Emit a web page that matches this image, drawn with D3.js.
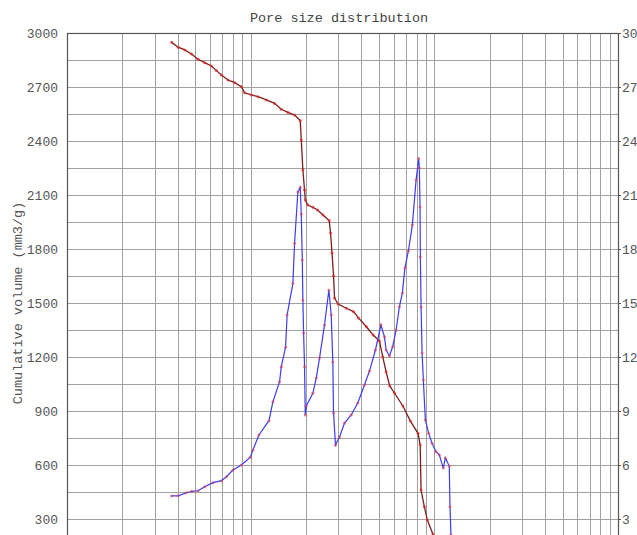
<!DOCTYPE html>
<html lang="en">
  <head>
    <meta charset="UTF-8" />
    <title>Pore size distribution</title>
    <style>
      body {
        margin: 0;
        background: #fff;
        overflow: hidden;
      }
      svg {
        display: block;
      }
      .tick text {
        font-family: "Liberation Mono", "DejaVu Sans Mono", monospace;
        font-size: 13px;
        fill: #555;
      }
      .grid line {
        stroke: #a0a0a0;
        stroke-width: 1px;
      }
    </style>
  </head>
  <body>
    <svg id="chart"></svg>

    <script src="https://d3js.org/d3.v7.min.js"></script>
    <script>
      const width = 637;
      const height = 535;
      const margin = { top: 33, right: 18, bottom: 573, left: 67 };

      // cumulative intrusion curve (left axis, mm3/g)
      const cumSize = [
        3.71, 4.03, 4.38, 4.76, 5.17, 5.62, 6.11, 6.51, 6.93, 7.53, 8.19, 8.9,
        9.28, 10.09, 10.96, 12.17, 13.5, 14.68, 15.95, 17.34, 18.62, 18.86,
        19.24, 19.65, 19.83, 20.48, 21.81, 23.13, 24.77, 26.77, 27.22, 27.73,
        28.26, 28.62, 29.9, 33.24, 36.29, 38.63, 42.68, 46.43, 50.25, 52.36,
        54.64, 57.16, 60.63, 67.42, 74.06, 81.53, 83.73, 84.69, 88.26, 91.61,
        98.15, 103.8,
      ];
      const cumVolume = [
        2948, 2921, 2906, 2883, 2854, 2835, 2817, 2791, 2767, 2739, 2724, 2702,
        2668, 2656, 2646, 2628, 2609, 2576, 2559, 2544, 2513, 2406, 2239, 2128,
        2072, 2044, 2032, 2017, 1989, 1958, 1889, 1778, 1650, 1528, 1494, 1471,
        1452, 1417, 1368, 1322, 1289, 1202, 1117, 1039, 1000, 928, 844, 776,
        711, 461, 368, 294, 217, 156,
      ];

      // differential curve (right axis)
      const diffSize = [
        3.71, 4.03, 4.47, 4.78, 5.17, 5.62, 6.24, 6.93, 7.38, 8.01, 8.9, 9.96,
        10.29, 11.09, 12.58, 13.22, 14.37, 14.68, 15.49, 15.79, 16.98, 17.34,
        18.07, 18.62, 18.86, 19.1, 19.24, 19.42, 19.65, 19.83, 20.08, 21.81,
        22.75, 23.71, 25.24, 26.65, 27.45, 28.01, 28.26, 28.97, 30.46, 32.43,
        35.27, 38.29, 41.65, 44.34, 47.79, 51.2, 53.49, 54.64, 56.94, 59.33,
        61.91, 64.53, 66.99, 69.14, 72.22, 75.92, 79.55, 82.16, 82.88, 83.61,
        83.92, 84.69, 85.75, 87.14, 89.36, 93.13, 97.16, 102.1, 106.4, 111.9,
        114.8, 120.6, 121.7, 123.2, 124.2,
      ];
      const diffVolume = [
        4.28, 4.29, 4.46, 4.54, 4.57, 4.79, 5.02, 5.13, 5.35, 5.72, 6.0, 6.43,
        6.83, 7.67, 8.46, 9.52, 10.63, 11.46, 12.54, 14.33, 16.09, 18.32,
        21.17, 21.42, 19.94, 17.39, 15.17, 13.33, 11.46, 8.78, 9.28, 9.98,
        10.83, 11.94, 13.78, 15.72, 14.33, 11.72, 8.89, 7.11, 7.56, 8.33, 8.78,
        9.44, 10.44, 11.22, 12.39, 13.78, 13.13, 12.39, 12.06, 12.57, 13.5,
        14.79, 15.56, 16.94, 17.89, 19.33, 21.83, 23.03, 22.5, 20.33, 17.56,
        14.78, 12.22, 10.72, 8.5, 7.76, 7.21, 6.74, 6.56, 5.83, 6.39, 5.94,
        3.68, 2.11, 0,
      ];

      const leftTicks = [300, 600, 900, 1200, 1500, 1800, 2100, 2400, 2700, 3000];
      const rightTicks = [3, 6, 9, 12, 15, 18, 21, 24, 27, 30];

      const x0 = margin.left;
      const x1 = width - margin.right - 1;
      const y0 = margin.bottom;
      const y1 = margin.top;

      const svg = d3
        .select("#chart")
        .attr("width", width)
        .attr("height", height)
        .attr("viewBox", `0 0 ${width} ${height}`);

      const x = d3.scaleLog().domain([1, 1000]).range([x0, x1]);
      const yLeft = d3.scaleLinear().domain([0, 3000]).range([y0, y1]);
      const yRight = d3.scaleLinear().domain([0, 30]).range([y0, y1]);

      // grid
      const grid = svg.append("g").attr("class", "grid");
      grid
        .selectAll("line.v")
        .data(x.ticks().filter((d) => d > 1 && d < 1000))
        .join("line")
        .attr("class", "v")
        .attr("x1", (d) => Math.round(x(d)) + 0.5)
        .attr("x2", (d) => Math.round(x(d)) + 0.5)
        .attr("y1", y1)
        .attr("y2", y0);
      grid
        .selectAll("line.h")
        .data(d3.range(150, 3000, 150))
        .join("line")
        .attr("class", "h")
        .attr("x1", x0)
        .attr("x2", x1)
        .attr("y1", (d) => Math.round(yLeft(d)) + 0.5)
        .attr("y2", (d) => Math.round(yLeft(d)) + 0.5);

      // frame
      svg
        .append("rect")
        .attr("x", x0 + 0.5)
        .attr("y", y1 + 0.5)
        .attr("width", x1 - x0)
        .attr("height", y0 - y1)
        .attr("fill", "none")
        .attr("stroke", "#555")
        .attr("stroke-width", 1.2);

      // axes
      const leftAxis = svg
        .append("g")
        .attr("transform", `translate(${x0},0)`)
        .call(
          d3
            .axisLeft(yLeft)
            .tickValues(leftTicks)
            .tickFormat(d3.format("d"))
            .tickSize(0)
            .tickPadding(9)
        );
      leftAxis.select(".domain").remove();

      const rightAxis = svg
        .append("g")
        .attr("transform", `translate(${x1},0)`)
        .call(
          d3
            .axisRight(yRight)
            .tickValues(rightTicks)
            .tickFormat(d3.format("d"))
            .tickSize(3)
            .tickPadding(1)
        );
      rightAxis.select(".domain").remove();
      rightAxis.selectAll(".tick line").attr("stroke", "#555");

      // title
      svg
        .append("text")
        .attr("x", 339)
        .attr("y", 22)
        .attr("text-anchor", "middle")
        .style("font-family", '"Liberation Mono", monospace')
        .style("font-size", "13.5px")
        .style("fill", "#444")
        .text("Pore size distribution");

      svg
        .append("text")
        .attr("transform", `translate(22,${(y0 + y1) / 2}) rotate(-90)`)
        .attr("text-anchor", "middle")
        .style("font-family", '"Liberation Mono", monospace')
        .style("font-size", "13.5px")
        .style("fill", "#555")
        .text("Cumulative volume (mm3/g)");

      const cumData = cumSize.map((s, i) => [s, cumVolume[i]]);
      const diffData = diffSize.map((s, i) => [s, diffVolume[i]]);

      const lineCum = d3
        .line()
        .x((d) => x(d[0]))
        .y((d) => yLeft(d[1]));
      const lineDiff = d3
        .line()
        .x((d) => x(d[0]))
        .y((d) => yRight(d[1]));

      svg
        .append("path")
        .datum(cumData)
        .attr("d", lineCum)
        .attr("fill", "none")
        .attr("stroke", "#7a1d1d")
        .attr("stroke-width", 1.3);

      svg
        .append("path")
        .datum(diffData)
        .attr("d", lineDiff)
        .attr("fill", "none")
        .attr("stroke", "#3c3cf0")
        .attr("stroke-width", 1.2);

      svg
        .append("g")
        .selectAll("circle")
        .data(cumData)
        .join("circle")
        .attr("cx", (d) => x(d[0]))
        .attr("cy", (d) => yLeft(d[1]))
        .attr("r", 1.5)
        .attr("fill", "rgba(225,40,40,0.75)");

      svg
        .append("g")
        .selectAll("circle")
        .data(diffData)
        .join("circle")
        .attr("cx", (d) => x(d[0]))
        .attr("cy", (d) => yRight(d[1]))
        .attr("r", 1.5)
        .attr("fill", "rgba(225,60,90,0.65)");
    </script>
  </body>
</html>
